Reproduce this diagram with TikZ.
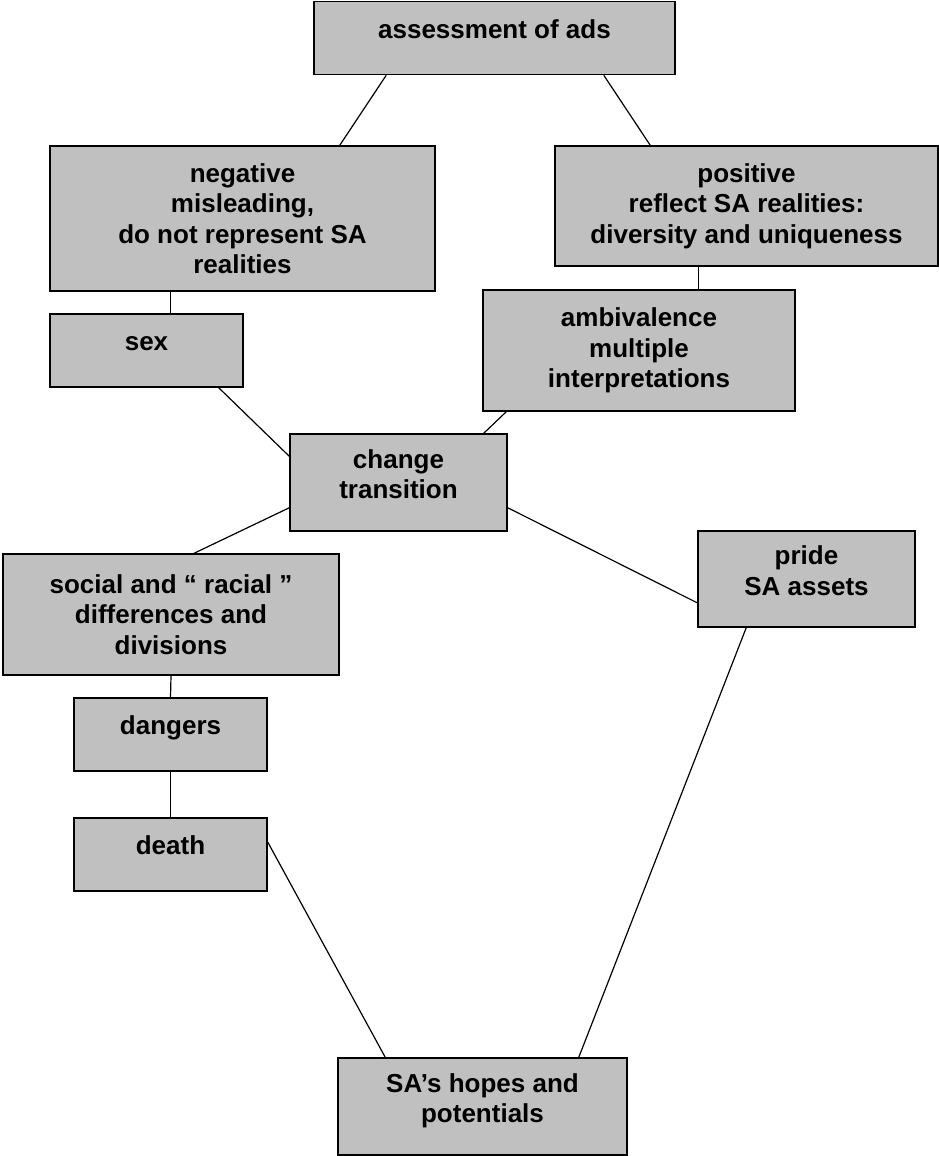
\documentclass[tikz,border=0pt]{standalone}
\usepackage{fontspec}
\setmainfont{Liberation Sans}
\definecolor{boxgray}{RGB}{192,192,192}
\begin{document}
\begin{tikzpicture}[x=1pt,y=-1pt]
        \tikzstyle{box}=[rectangle,draw=black,line width=1.6pt,fill=boxgray,inner sep=0pt,align=center,
                         font=\fontsize{26}{30.5}\selectfont\bfseries]
        \tikzstyle{oneline}=[text height=10pt,text depth=10pt]
        \tikzstyle{twoline}=[text height=40.5pt,text depth=8pt]
        \tikzstyle{edge}=[draw, line width=1.2pt]
        \useasboundingbox (0,0) rectangle (938,1156);
       \begin{scope}
         \node [box,oneline,minimum width=361pt,minimum height=73pt] (ads) at (494.5,38) {assessment of ads};
         \node [box,minimum width=385pt,minimum height=145pt] (neg) at (242.5,218.5) {negative\\misleading,\\do not represent SA\\realities};
         \node [box,minimum width=383pt,minimum height=120pt] (pos) at (746.5,206) {positive\\reflect SA realities:\\diversity and uniqueness};
         \node [box,oneline,minimum width=193pt,minimum height=73pt] (sex) at (146.5,350.5) {sex};
         \node [box,minimum width=312pt,minimum height=121pt] (amb) at (639,350.5) {ambivalence\\multiple\\interpretations};
         \node [box,twoline,minimum width=217pt,minimum height=97pt] (chg) at (398.5,482.5) {change\\transition};
         \node [box,minimum width=336pt,minimum height=121pt] (soc) at (171,614.5) {social and `` racial ''\\differences and\\divisions};
         \node [box,twoline,minimum width=217pt,minimum height=96pt] (pride) at (806.5,579) {pride\\SA assets};
         \node [box,oneline,minimum width=193pt,minimum height=73pt] (dang) at (170.5,734.5) {dangers};
         \node [box,oneline,minimum width=193pt,minimum height=73pt] (death) at (170.5,854.5) {death};
         \node [box,twoline,minimum width=289pt,minimum height=97pt] (hopes) at (482.5,1106.5) {SA’s hopes and\\potentials};

         \path[edge] ([xshift=73pt]ads.south west) edge ([xshift=-96pt]neg.north east);
         \path[edge] ([xshift=-72pt]ads.south east) edge ([xshift=96pt]pos.north west);

         \path[edge] ([xshift=121pt]neg.south west) edge ([xshift=121pt]sex.north west);
         \path[edge] ([xshift=144pt]pos.south west) edge ([xshift=216pt]amb.north west);

         \path[edge] ([xshift=-25pt]sex.south east) edge ([yshift=-23pt]chg.north west);
         \path[edge] ([xshift=24pt]amb.south west) edge ([xshift=-24pt]chg.north east);
         \path[edge] ([yshift=24pt]chg.south west) edge ([xshift=192pt]soc.north west);
         \path[edge] ([yshift=24pt]chg.south east) edge ([yshift=25pt]pride.south west);

         \path[edge] (soc.south) edge (dang.north);
         \path[edge] (dang.south) edge (death.north);
         \path[edge] ([yshift=-25pt]death.north east) edge ([xshift=48pt]hopes.north west);
         \path[edge] ([xshift=49pt]pride.south west) edge ([xshift=-49pt]hopes.north east);
        \end{scope}
      \end{tikzpicture}
\end{document}
